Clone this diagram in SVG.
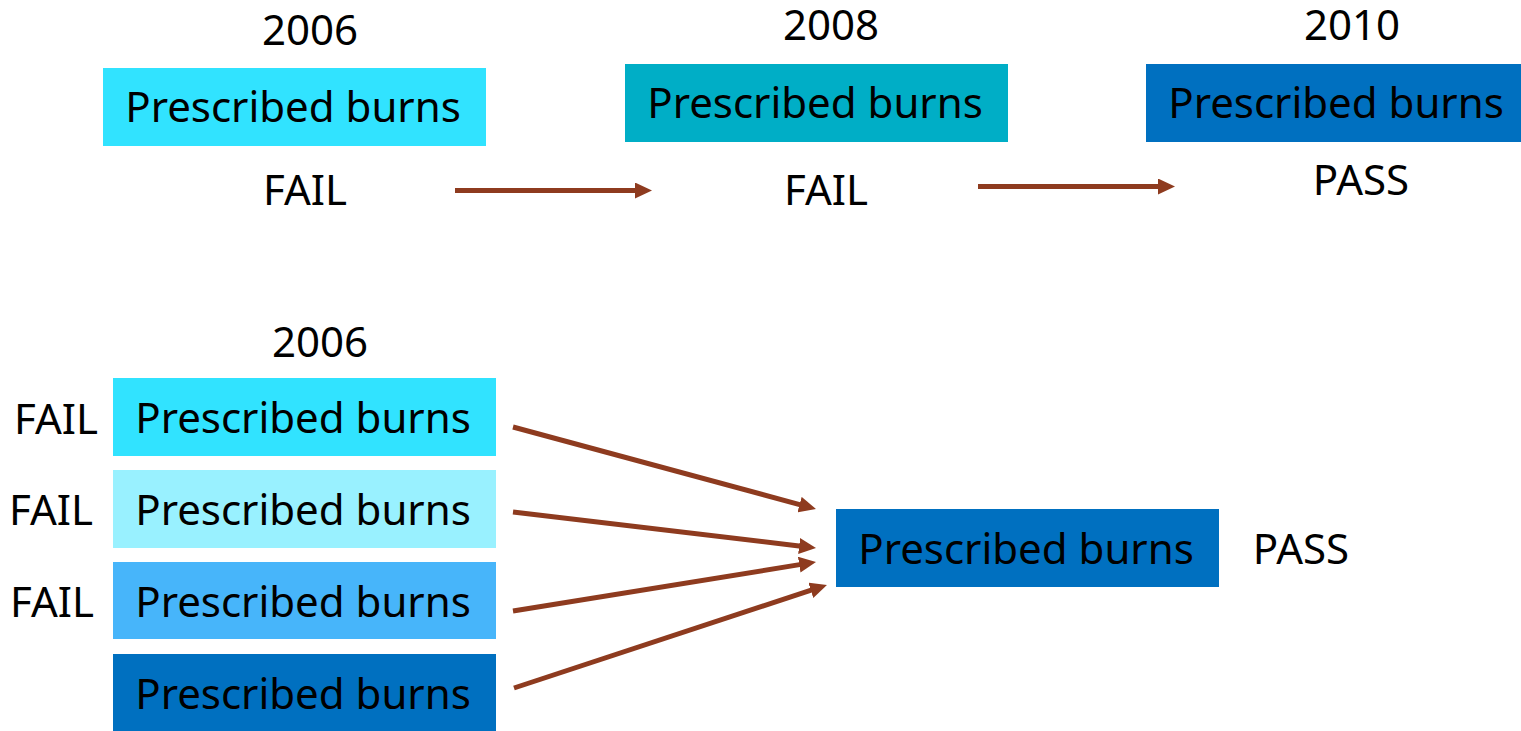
<svg xmlns="http://www.w3.org/2000/svg" width="1521" height="731" viewBox="0 0 1521 731">
<style>
text{font-family:"Noto Sans","Liberation Sans",sans-serif;font-size:42px;fill:#000}
.c{text-anchor:middle}
.a{stroke:#8E3B1F;stroke-width:5;fill:none;marker-end:url(#ah)}
</style>
<defs>
<marker id="ah" markerUnits="userSpaceOnUse" markerWidth="17" markerHeight="16" refX="2" refY="8" orient="auto" viewBox="0 0 17 16">
<path d="M0,0 L17,8 L0,16 z" fill="#8E3B1F"/>
</marker>
</defs>
<rect width="1521" height="731" fill="#fff"/>
<g id="top2006">
<text class="c" x="310" y="45">2006</text>
<rect x="103" y="68" width="383" height="78" fill="#31E3FF"/>
<text class="c" x="293" y="122">Prescribed burns</text>
<text class="c" x="305" y="205">FAIL</text>
</g>
<g id="top2008">
<text class="c" x="831" y="40">2008</text>
<rect x="625" y="64" width="383" height="78" fill="#00AEC6"/>
<text class="c" x="815" y="118">Prescribed burns</text>
<text class="c" x="826" y="205">FAIL</text>
</g>
<g id="top2010">
<text class="c" x="1352" y="40">2010</text>
<rect x="1146" y="64" width="375" height="78" fill="#0070C0"/>
<text class="c" x="1336" y="118">Prescribed burns</text>
<text class="c" x="1361" y="195">PASS</text>
</g>
<g id="bottom-year"><text class="c" x="320" y="357">2006</text></g>
<g id="b1">
<rect x="113" y="378" width="383" height="78" fill="#31E3FF"/>
<text class="c" x="303" y="433">Prescribed burns</text>
<text class="c" x="56" y="434">FAIL</text>
</g>
<g id="b2">
<rect x="113" y="470" width="383" height="78" fill="#99F1FF"/>
<text class="c" x="303" y="525">Prescribed burns</text>
<text class="c" x="51" y="525">FAIL</text>
</g>
<g id="b3">
<rect x="113" y="562" width="383" height="77" fill="#47B5FA"/>
<text class="c" x="303" y="617">Prescribed burns</text>
<text class="c" x="52" y="617">FAIL</text>
</g>
<g id="b4">
<rect x="113" y="654" width="383" height="77" fill="#0070C0"/>
<text class="c" x="303" y="709">Prescribed burns</text>
</g>
<g id="result">
<rect x="836" y="509" width="383" height="78" fill="#0070C0"/>
<text class="c" x="1026" y="564">Prescribed burns</text>
<text class="c" x="1301" y="564">PASS</text>
</g>
<g id="connectors">
<line class="a" x1="455" y1="190.5" x2="637" y2="190.5"/>
<line class="a" x1="978" y1="186.5" x2="1160" y2="186.5"/>
<line class="a" x1="513" y1="427" x2="801.5" y2="505.1"/>
<line class="a" x1="513" y1="512" x2="801.1" y2="546.2"/>
<line class="a" x1="513" y1="611" x2="801.2" y2="564.4"/>
<line class="a" x1="514" y1="688" x2="812.7" y2="589.7"/>
</g>
</svg>
